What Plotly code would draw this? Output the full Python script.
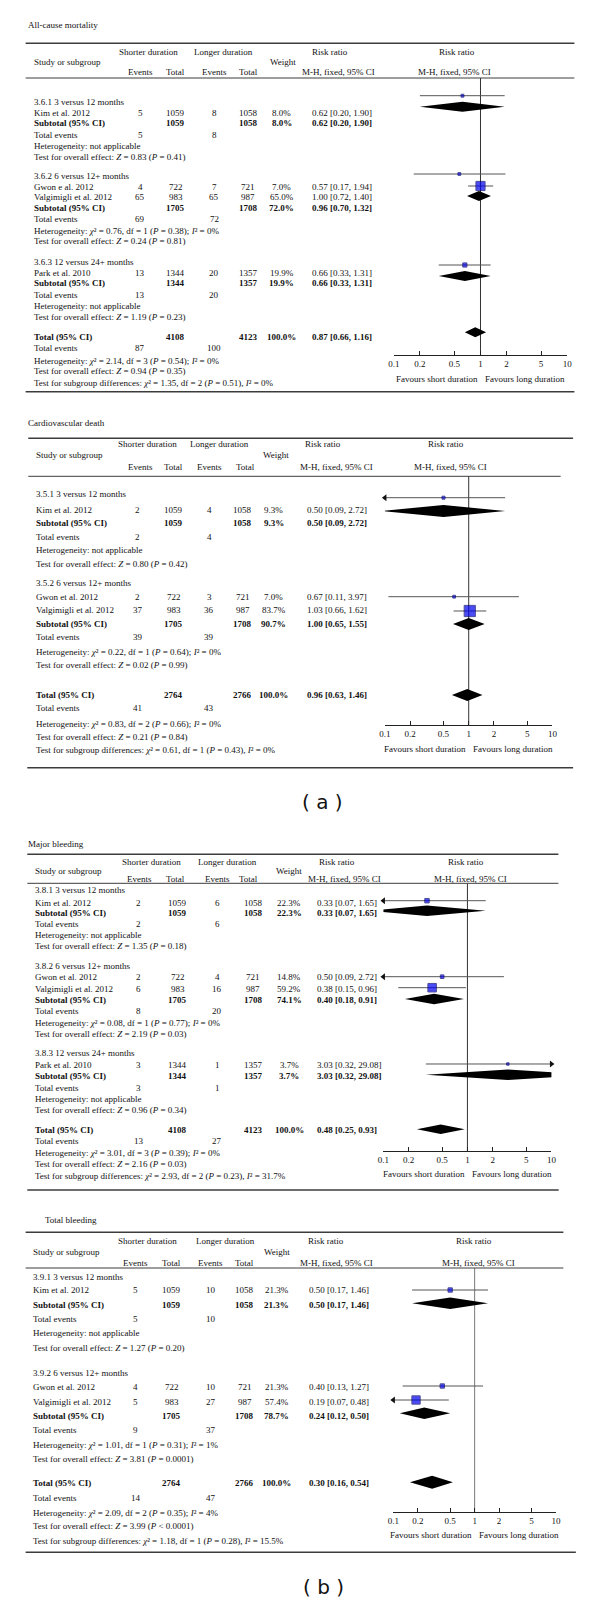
import plotly.graph_objects as go

W, H = 600, 1603
SERIF = "Liberation Serif"
FS = 9
TXT = "#111111"
RULE = "#3c3c3c"
AX_MIN, AX_MAX = 0.1, 10
TICK_VALS = [0.1, 0.2, 0.5, 1, 2, 5, 10]
TICK_TEXT = ["0.1", "0.2", "0.5", "1", "2", "5", "10"]

# ================= DATA =================
# --- All-cause mortality ---
ACM_TITLE = "All-cause mortality"
ACM_GROUPS = ["3.6.1 3 versus 12 months", "3.6.2 6 versus 12+ months", "3.6.3 12 versus 24+ months"]
ACM_STUDIES = ["Kim et al. 2012", "Gwon e al. 2012", "Valgimigli et al. 2012", "Park et al. 2010"]
ACM_GROUP_OF = [0, 1, 1, 2]
ACM_EV_S = [5, 4, 65, 13]
ACM_N_S = [1059, 722, 983, 1344]
ACM_EV_L = [8, 7, 65, 20]
ACM_N_L = [1058, 721, 987, 1357]
ACM_W = [8.0, 7.0, 65.0, 19.9]
ACM_RR = [0.62, 0.57, 1.00, 0.66]
ACM_LO = [0.20, 0.17, 0.72, 0.33]
ACM_HI = [1.90, 1.94, 1.40, 1.31]
ACM_SUB_N_S = [1059, 1705, 1344]
ACM_SUB_N_L = [1058, 1708, 1357]
ACM_SUB_EV_S = [5, 69, 13]
ACM_SUB_EV_L = [8, 72, 20]
ACM_SUB_W = [8.0, 72.0, 19.9]
ACM_SUB_RR = [0.62, 0.96, 0.66]
ACM_SUB_LO = [0.20, 0.70, 0.33]
ACM_SUB_HI = [1.90, 1.32, 1.31]
ACM_SUB_HET = [None, ("0.76", "1", "0.38", "0%"), None]
ACM_SUB_Z = [("0.83", "= 0.41"), ("0.24", "= 0.81"), ("1.19", "= 0.23")]
ACM_TOT = [4108, 4123, 100.0, 0.87, 0.66, 1.16]
ACM_TOT_EV = [87, 100]
ACM_TOT_HET = ("2.14", "3", "0.54", "0%")
ACM_TOT_Z = ("0.94", "= 0.35")
ACM_SUBDIFF = ("1.35", "2", "0.51", "0%")

# --- Cardiovascular death ---
CVD_TITLE = "Cardiovascular death"
CVD_GROUPS = ["3.5.1 3 versus 12 months", "3.5.2 6 versus 12+ months"]
CVD_STUDIES = ["Kim et al. 2012", "Gwon et al. 2012", "Valgimigli et al. 2012"]
CVD_GROUP_OF = [0, 1, 1]
CVD_EV_S = [2, 2, 37]
CVD_N_S = [1059, 722, 983]
CVD_EV_L = [4, 3, 36]
CVD_N_L = [1058, 721, 987]
CVD_W = [9.3, 7.0, 83.7]
CVD_RR = [0.50, 0.67, 1.03]
CVD_LO = [0.09, 0.11, 0.66]
CVD_HI = [2.72, 3.97, 1.62]
CVD_SUB_N_S = [1059, 1705]
CVD_SUB_N_L = [1058, 1708]
CVD_SUB_EV_S = [2, 39]
CVD_SUB_EV_L = [4, 39]
CVD_SUB_W = [9.3, 90.7]
CVD_SUB_RR = [0.50, 1.00]
CVD_SUB_LO = [0.09, 0.65]
CVD_SUB_HI = [2.72, 1.55]
CVD_SUB_HET = [None, ("0.22", "1", "0.64", "0%")]
CVD_SUB_Z = [("0.80", "= 0.42"), ("0.02", "= 0.99")]
CVD_TOT = [2764, 2766, 100.0, 0.96, 0.63, 1.46]
CVD_TOT_EV = [41, 43]
CVD_TOT_HET = ("0.83", "2", "0.66", "0%")
CVD_TOT_Z = ("0.21", "= 0.84")
CVD_SUBDIFF = ("0.61", "1", "0.43", "0%")

# --- Major bleeding ---
MB_TITLE = "Major bleeding"
MB_GROUPS = ["3.8.1 3 versus 12 months", "3.8.2 6 versus 12+ months", "3.8.3 12 versus 24+ months"]
MB_STUDIES = ["Kim et al. 2012", "Gwon et al. 2012", "Valgimigli et al. 2012", "Park et al. 2010"]
MB_GROUP_OF = [0, 1, 1, 2]
MB_EV_S = [2, 2, 6, 3]
MB_N_S = [1059, 722, 983, 1344]
MB_EV_L = [6, 4, 16, 1]
MB_N_L = [1058, 721, 987, 1357]
MB_W = [22.3, 14.8, 59.2, 3.7]
MB_RR = [0.33, 0.50, 0.38, 3.03]
MB_LO = [0.07, 0.09, 0.15, 0.32]
MB_HI = [1.65, 2.72, 0.96, 29.08]
MB_SUB_N_S = [1059, 1705, 1344]
MB_SUB_N_L = [1058, 1708, 1357]
MB_SUB_EV_S = [2, 8, 3]
MB_SUB_EV_L = [6, 20, 1]
MB_SUB_W = [22.3, 74.1, 3.7]
MB_SUB_RR = [0.33, 0.40, 3.03]
MB_SUB_LO = [0.07, 0.18, 0.32]
MB_SUB_HI = [1.65, 0.91, 29.08]
MB_SUB_HET = [None, ("0.08", "1", "0.77", "0%"), None]
MB_SUB_Z = [("1.35", "= 0.18"), ("2.19", "= 0.03"), ("0.96", "= 0.34")]
MB_TOT = [4108, 4123, 100.0, 0.48, 0.25, 0.93]
MB_TOT_EV = [13, 27]
MB_TOT_HET = ("3.01", "3", "0.39", "0%")
MB_TOT_Z = ("2.16", "= 0.03")
MB_SUBDIFF = ("2.93", "2", "0.23", "31.7%")

# --- Total bleeding ---
TB_TITLE = "Total bleeding"
TB_GROUPS = ["3.9.1 3 versus 12 months", "3.9.2 6 versus 12+ months"]
TB_STUDIES = ["Kim et al. 2012", "Gwon et al. 2012", "Valgimigli et al. 2012"]
TB_GROUP_OF = [0, 1, 1]
TB_EV_S = [5, 4, 5]
TB_N_S = [1059, 722, 983]
TB_EV_L = [10, 10, 27]
TB_N_L = [1058, 721, 987]
TB_W = [21.3, 21.3, 57.4]
TB_RR = [0.50, 0.40, 0.19]
TB_LO = [0.17, 0.13, 0.07]
TB_HI = [1.46, 1.27, 0.48]
TB_SUB_N_S = [1059, 1705]
TB_SUB_N_L = [1058, 1708]
TB_SUB_EV_S = [5, 9]
TB_SUB_EV_L = [10, 37]
TB_SUB_W = [21.3, 78.7]
TB_SUB_RR = [0.50, 0.24]
TB_SUB_LO = [0.17, 0.12]
TB_SUB_HI = [1.46, 0.50]
TB_SUB_HET = [None, ("1.01", "1", "0.31", "1%")]
TB_SUB_Z = [("1.27", "= 0.20"), ("3.81", "= 0.0001")]
TB_TOT = [2764, 2766, 100.0, 0.30, 0.16, 0.54]
TB_TOT_EV = [14, 47]
TB_TOT_HET = ("2.09", "2", "0.35", "4%")
TB_TOT_Z = ("3.99", "&lt; 0.0001")
TB_SUBDIFF = ("1.18", "1", "0.28", "15.5%")


def pack(prefix):
    g = globals()
    return {k: g[f"{prefix}_{k}"] for k in [
        "TITLE", "GROUPS", "STUDIES", "GROUP_OF", "EV_S", "N_S", "EV_L", "N_L", "W", "RR", "LO", "HI",
        "SUB_N_S", "SUB_N_L", "SUB_EV_S", "SUB_EV_L", "SUB_W", "SUB_RR", "SUB_LO", "SUB_HI",
        "SUB_HET", "SUB_Z", "TOT", "TOT_EV", "TOT_HET", "TOT_Z", "SUBDIFF"]}


PANELS = [pack("ACM"), pack("CVD"), pack("MB"), pack("TB")]

# ================= LAYOUT (pixel positions) =================
LAYOUTS = [
    dict(title=(21, 25), top=(43.3, 20, 579), hdr=(78, 20, 579), bottom=(391.7, 20, 579),
         hy=(52, 62, 72),
         hx=dict(short=145, long=221.5, rr1=330, rr2=459, study=28, weight=282, ev1=137, tot1=173,
                 ev2=212, tot2=247, mh1=339, mh2=457),
         cols=dict(label=28, ev1=137, tot1=173, ev2=212, tot2=247, w=281, rr=311),
         rows=[101.7, 112.7, 123.3, 135, 145.7, 156.7, 176, 186.7, 197.3, 208.3, 219.3, 231, 241,
               262, 272.7, 283.3, 295, 306, 317, 336.7, 347.7, 360.7, 371.3, 383.3],
         x01=395, x10=571.7, axis_y=355, fav_y=379,
         mark_study=[95.7, 174, 186, 265], mark_sub=[106.7, 196, 276], mark_tot=332.3, dh=5, dh_tot=5,
         vcolor="#333"),
    dict(title=(21, 422.7), top=(438.3, 22.7, 577.7), hdr=(476.3, 22.7, 565), bottom=(767.7, 21.7, 577.7),
         hy=(443.8, 455.3, 467.3),
         hx=dict(short=144.5, long=217.8, rr1=323.3, rr2=448.3, study=30, weight=275, ev1=137.3, tot1=170.7,
                 ev2=207.3, tot2=244, mh1=336.7, mh2=452.7),
         cols=dict(label=30, ev1=134, tot1=170.7, ev2=207.3, tot2=241, w=272.7, rr=306),
         rows=[494.3, 509.7, 523.3, 536.7, 550.3, 563.7, 583, 596.7, 610, 623.5, 637, 651.5, 664.5,
               695, 708.3, 724, 736.7, 750],
         x01=386, x10=556.7, axis_y=725, fav_y=749,
         mark_study=[497.7, 596.7, 611], mark_sub=[511, 624], mark_tot=695, dh=6, dh_tot=6,
         vcolor="#333"),
    dict(title=(21, 844), top=(854.3, 21.7, 562.7), hdr=(883.3, 21.7, 562.7), bottom=(1190, 21.7, 563),
         hy=(861.7, 870.7, 879.3),
         hx=dict(short=148, long=225.5, rr1=336.7, rr2=468.3, study=28.3, weight=288.7, ev1=135.7, tot1=172.7,
                 ev2=215.3, tot2=247, mh1=345, mh2=473.3),
         cols=dict(label=28.3, ev1=135, tot1=175, ev2=215, tot2=251.7, w=288.7, rr=316),
         rows=[890, 902.7, 913.3, 924.3, 935, 946, 966, 977.3, 988.7, 1000, 1011.3, 1023.3, 1034,
               1053.3, 1065, 1076.3, 1087.7, 1098.7, 1110.3, 1130.3, 1141, 1153, 1163.7, 1175.7],
         x01=384.5, x10=555.6, axis_y=1151, fav_y=1174,
         mark_study=[900.7, 976.7, 987.7, 1064], mark_sub=[910.7, 999, 1074.7], mark_tot=1129.3,
         dh=5.3, dh_tot=4.7, vcolor="#333"),
    dict(title=(38.3, 1220.3), top=(1232.3, 20, 567.8), hdr=(1268, 20, 567.8), bottom=(1552.3, 20, 580.5),
         hy=(1241, 1251.7, 1262.7),
         hx=dict(short=143.7, long=224, rr1=325.7, rr2=477, study=26.8, weight=275.9, ev1=132.2, tot1=169,
                 ev2=208.8, tot2=243, mh1=336.4, mh2=481.2),
         cols=dict(label=26.8, ev1=132.2, tot1=169, ev2=208.8, tot2=243, w=275.9, rr=307.3),
         rows=[1276.7, 1290.3, 1305, 1319, 1333.3, 1347.7, 1373.3, 1387.3, 1401.7, 1415.7, 1430, 1445.3,
               1458.7, 1483.3, 1497.7, 1513.3, 1526, 1541],
         x01=394.6, x10=560.2, axis_y=1511.7, fav_y=1535,
         mark_study=[1290, 1386, 1400], mark_sub=[1303.3, 1413.3], mark_tot=1482.3, dh=5.8, dh_tot=6.5,
         vcolor="#777"),
]
FIG_LABELS = [("( a )", 322, 801.7), ("( b )", 323, 1586.7)]

# ================= BUILD =================
fig = go.Figure()
annotations = []
shapes = []


def ann(x, y, text, anchor="left", size=FS, bold=False, family=SERIF, color=TXT):
    if bold:
        text = f"<b>{text}</b>"
    annotations.append(dict(x=x / W, y=1 - y / H, xref="paper", yref="paper", text=text, showarrow=False,
                            xanchor=anchor, yanchor="middle", borderpad=0,
                            font=dict(family=family, size=size, color=color)))


def hline(spec, width):
    y, x0, x1 = spec
    shapes.append(dict(type="line", xref="paper", yref="paper", x0=x0 / W, x1=x1 / W,
                       y0=1 - y / H, y1=1 - y / H,
                       line=dict(color=RULE, width=width), layer="above"))


def het_text(h):
    if h is None:
        return "Heterogeneity: not applicable"
    chi, df, p, i2 = h
    return (f"Heterogeneity: <i>χ</i>² = {chi}, df = {df} (<i>P</i> = {p}); "
            f"<i>I</i>² = {i2}")


def z_text(z):
    return f"Test for overall effect: <i>Z</i> = {z[0]} (<i>P</i> {z[1]})"


def diff_text(d):
    chi, df, p, i2 = d
    return (f"Test for subgroup differences: <i>χ</i>² = {chi}, df = {df} (<i>P</i> = {p}), "
            f"<i>I</i>² = {i2}")


def rr_text(rr, lo, hi):
    return f"{rr:.2f} [{lo:.2f}, {hi:.2f}]"


layout_axes = {}

for idx, (P, L) in enumerate(zip(PANELS, LAYOUTS), start=1):
    sfx = "" if idx == 1 else str(idx)
    xa, ya = "x" + sfx, "y" + sfx

    # title and rules
    ann(L["title"][0], L["title"][1], P["TITLE"])
    hline(L["top"], 1.5)
    hline(L["hdr"], 1)
    hline(L["bottom"], 1.5)

    # header
    hx = L["hx"]
    y1, y2, y3 = L["hy"]
    ann(hx["short"], y1, "Shorter duration", "center")
    ann(hx["long"], y1, "Longer duration", "center")
    ann(hx["rr1"], y1, "Risk ratio", "center")
    ann(hx["rr2"], y1, "Risk ratio", "center")
    ann(hx["study"], y2, "Study or subgroup")
    ann(hx["weight"], y2, "Weight", "center")
    for key, t in [("ev1", "Events"), ("tot1", "Total"), ("ev2", "Events"), ("tot2", "Total"),
                   ("mh1", "M-H, fixed, 95% CI"), ("mh2", "M-H, fixed, 95% CI")]:
        ann(hx[key], y3, t, "center")

    # table rows
    c = L["cols"]
    rows = iter(L["rows"])
    for g, gname in enumerate(P["GROUPS"]):
        ann(c["label"], next(rows), gname)
        for i, s in enumerate(P["STUDIES"]):
            if P["GROUP_OF"][i] != g:
                continue
            y = next(rows)
            ann(c["label"], y, s)
            ann(c["ev1"], y, str(P["EV_S"][i]), "center")
            ann(c["tot1"], y, str(P["N_S"][i]), "center")
            ann(c["ev2"], y, str(P["EV_L"][i]), "center")
            ann(c["tot2"], y, str(P["N_L"][i]), "center")
            ann(c["w"], y, f"{P['W'][i]:.1f}%", "center")
            ann(c["rr"], y, rr_text(P["RR"][i], P["LO"][i], P["HI"][i]))
        y = next(rows)
        ann(c["label"], y, "Subtotal (95% CI)", bold=True)
        ann(c["tot1"], y, str(P["SUB_N_S"][g]), "center", bold=True)
        ann(c["tot2"], y, str(P["SUB_N_L"][g]), "center", bold=True)
        ann(c["w"], y, f"{P['SUB_W'][g]:.1f}%", "center", bold=True)
        ann(c["rr"], y, rr_text(P["SUB_RR"][g], P["SUB_LO"][g], P["SUB_HI"][g]), bold=True)
        y = next(rows)
        ann(c["label"], y, "Total events")
        ann(c["ev1"], y, str(P["SUB_EV_S"][g]), "center")
        ann(c["ev2"], y, str(P["SUB_EV_L"][g]), "center")
        ann(c["label"], next(rows), het_text(P["SUB_HET"][g]))
        ann(c["label"], next(rows), z_text(P["SUB_Z"][g]))
    T = P["TOT"]
    y = next(rows)
    ann(c["label"], y, "Total (95% CI)", bold=True)
    ann(c["tot1"], y, str(T[0]), "center", bold=True)
    ann(c["tot2"], y, str(T[1]), "center", bold=True)
    ann(c["w"], y, f"{T[2]:.1f}%", "center", bold=True)
    ann(c["rr"], y, rr_text(T[3], T[4], T[5]), bold=True)
    y = next(rows)
    ann(c["label"], y, "Total events")
    ann(c["ev1"], y, str(P["TOT_EV"][0]), "center")
    ann(c["ev2"], y, str(P["TOT_EV"][1]), "center")
    ann(c["label"], next(rows), het_text(P["TOT_HET"]))
    ann(c["label"], next(rows), z_text(P["TOT_Z"]))
    ann(c["label"], next(rows), diff_text(P["SUBDIFF"]))

    # forest plot
    x1px = (L["x01"] + L["x10"]) / 2
    ann(x1px - 1.5, L["fav_y"], "Favours short duration", "right")
    ann(x1px + 3.5, L["fav_y"], "Favours long duration", "left")

    common = dict(xaxis=xa, yaxis=ya, hoverinfo="skip", showlegend=False)
    # vertical line of no effect
    fig.add_trace(go.Scatter(x=[1, 1], y=[L["hdr"][0], L["axis_y"]], mode="lines",
                             line=dict(color=L["vcolor"], width=1), **common))
    # CI lines
    cx, cy = [], []
    for i in range(len(P["STUDIES"])):
        cx += [P["LO"][i], P["HI"][i], None]
        cy += [L["mark_study"][i]] * 2 + [None]
    fig.add_trace(go.Scatter(x=cx, y=cy, mode="lines", line=dict(color="#555", width=1), **common))
    # arrows for CIs beyond the axis
    lx = [AX_MIN for lo in P["LO"] if lo < AX_MIN]
    ly = [L["mark_study"][i] for i, lo in enumerate(P["LO"]) if lo < AX_MIN]
    rx = [AX_MAX for hi in P["HI"] if hi > AX_MAX]
    ry = [L["mark_study"][i] for i, hi in enumerate(P["HI"]) if hi > AX_MAX]
    if lx:
        fig.add_trace(go.Scatter(x=lx, y=ly, mode="markers", cliponaxis=False,
                                 marker=dict(symbol="triangle-left", size=6, color="#111"), **common))
    if rx:
        fig.add_trace(go.Scatter(x=rx, y=ry, mode="markers", cliponaxis=False,
                                 marker=dict(symbol="triangle-right", size=6, color="#111"), **common))
    # study squares (size scaled by weight)
    fig.add_trace(go.Scatter(x=P["RR"], y=L["mark_study"], mode="markers",
                             marker=dict(symbol="square", size=[2 + 0.11 * w for w in P["W"]],
                                         color="#0000f0", line=dict(color="#000070", width=1)),
                             **common))
    # diamonds
    dx, dy = [], []
    for g in range(len(P["GROUPS"])):
        ym, h = L["mark_sub"][g], L["dh"]
        dx += [P["SUB_LO"][g], P["SUB_RR"][g], P["SUB_HI"][g], P["SUB_RR"][g], P["SUB_LO"][g], None]
        dy += [ym, ym - h, ym, ym + h, ym, None]
    ym, h = L["mark_tot"], L["dh_tot"]
    dx += [T[4], T[3], T[5], T[3], T[4]]
    dy += [ym, ym - h, ym, ym + h, ym]
    fig.add_trace(go.Scatter(x=dx, y=dy, mode="lines", fill="toself", fillcolor="black",
                             line=dict(width=0, color="black"), connectgaps=False, **common))

    # each panel gets its own vertical band so subplots never overlap
    ytop, ybot = L["top"][0], L["bottom"][0]
    layout_axes["xaxis" + sfx] = dict(
        type="log", range=[-1, 1], domain=[L["x01"] / W, L["x10"] / W], anchor="free",
        position=1 - L["axis_y"] / H, showline=True, linecolor="#222", linewidth=1,
        ticks="inside", ticklen=4, tickcolor="#222", tickwidth=1,
        tickmode="array", tickvals=TICK_VALS, ticktext=TICK_TEXT,
        tickfont=dict(family=SERIF, size=FS, color=TXT),
        showgrid=False, zeroline=False, fixedrange=True)
    layout_axes["yaxis" + sfx] = dict(range=[ybot, ytop], domain=[1 - ybot / H, 1 - ytop / H],
                                      anchor=xa, visible=False,
                                      showgrid=False, zeroline=False, fixedrange=True)

for text, x, y in FIG_LABELS:
    ann(x, y, text, "center", size=20, family="DejaVu Sans", color="#111")

fig.update_layout(
    width=W, height=H, margin=dict(l=0, r=0, t=0, b=0, pad=0),
    paper_bgcolor="white", plot_bgcolor="rgba(0,0,0,0)", showlegend=False, hovermode=False,
    annotations=annotations, shapes=shapes, **layout_axes)

fig.write_html(
    "out.html", config={"displayModeBar": False},
    post_script="document.body.style.margin='0px';document.body.style.padding='0px';"
                "document.documentElement.style.overflow='hidden';")
